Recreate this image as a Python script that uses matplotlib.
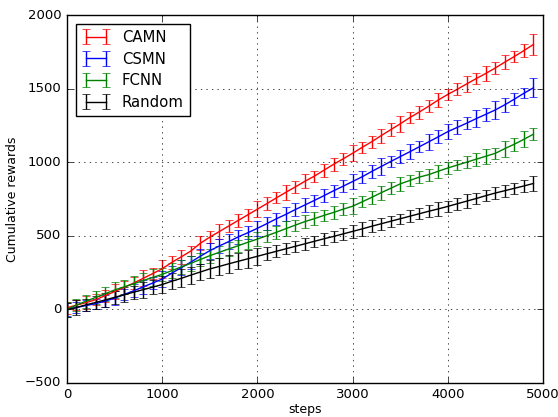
import numpy as np
import matplotlib
matplotlib.use("Agg")
import matplotlib.pyplot as plt

steps = np.arange(0, 5000, 100)

camn = [10, 28, 45, 65, 92, 120, 148, 178, 210, 242,
        275, 318, 356, 395, 448, 490, 528, 566, 604, 642,
        680, 718, 757, 795, 832, 870, 905, 945, 985, 1022,
        1060, 1100, 1138, 1180, 1220, 1260, 1302, 1340, 1380, 1422,
        1460, 1495, 1532, 1568, 1603, 1640, 1680, 1718, 1758, 1800]
camn_err = [40, 35, 45, 38, 42, 50, 44, 40, 55, 38,
            60, 42, 50, 36, 48, 40, 52, 39, 45, 41,
            55, 43, 38, 50, 40, 48, 37, 44, 42, 39,
            55, 36, 41, 47, 43, 52, 38, 44, 40, 46,
            37, 42, 55, 39, 50, 41, 47, 38, 43, 70]

csmn = [0, 12, 25, 38, 55, 75, 100, 125, 152, 178,
        205, 245, 282, 320, 360, 398, 430, 460, 492, 520,
        550, 582, 615, 645, 678, 709, 740, 772, 805, 836,
        868, 900, 936, 970, 1004, 1037, 1070, 1104, 1138, 1172,
        1207, 1236, 1265, 1296, 1325, 1355, 1390, 1428, 1468, 1505]
csmn_err = [45, 38, 40, 35, 42, 48, 40, 44, 50, 42,
            55, 48, 52, 45, 50, 55, 46, 52, 48, 44,
            50, 45, 40, 48, 42, 46, 38, 44, 40, 42,
            48, 40, 42, 55, 40, 45, 50, 38, 55, 44,
            52, 48, 40, 55, 45, 60, 48, 40, 35, 65]

fcnn = [0, 28, 55, 80, 105, 131, 152, 173, 195, 216,
        237, 262, 288, 312, 338, 364, 387, 410, 432, 455,
        477, 500, 523, 548, 572, 596, 616, 638, 658, 680,
        700, 730, 760, 792, 822, 852, 875, 898, 915, 938,
        960, 980, 1000, 1020, 1040, 1060, 1092, 1122, 1155, 1190]
fcnn_err = [50, 40, 45, 42, 48, 52, 45, 50, 48, 55,
            45, 50, 48, 52, 45, 48, 42, 45, 40, 44,
            48, 40, 45, 50, 38, 45, 42, 40, 44, 42,
            55, 38, 45, 48, 40, 50, 36, 42, 40, 45,
            40, 36, 40, 45, 50, 38, 55, 45, 55, 40]

random_ = [-5, 12, 30, 46, 63, 81, 98, 116, 133, 150,
           168, 190, 210, 232, 253, 274, 291, 309, 326, 343,
           360, 377, 394, 411, 428, 445, 462, 479, 495, 512,
           529, 546, 564, 581, 598, 615, 632, 649, 666, 682,
           699, 717, 735, 753, 772, 790, 806, 822, 838, 855]
random_err = [45, 50, 40, 45, 48, 42, 50, 45, 55, 48,
              60, 55, 62, 58, 55, 60, 58, 62, 55, 60,
              58, 45, 40, 38, 36, 42, 38, 40, 36, 38,
              45, 48, 42, 40, 38, 35, 40, 38, 42, 45,
              40, 42, 45, 40, 38, 42, 40, 38, 40, 48]

plt.style.use("classic")
plt.rcParams["font.family"] = ["DejaVu Sans"]

fig = plt.figure(figsize=(5.58, 4.17), dpi=100, facecolor="white")
ax = fig.add_axes([0.12, 0.082, 0.853, 0.882])

ax.errorbar(steps, camn, yerr=camn_err, color="r", label="CAMN", capsize=3)
ax.errorbar(steps, csmn, yerr=csmn_err, color="b", label="CSMN", capsize=3)
ax.errorbar(steps, fcnn, yerr=fcnn_err, color="g", label="FCNN", capsize=3)
ax.errorbar(steps, random_, yerr=random_err, color="k", label="Random", capsize=3)

ax.set_xlim(0, 5000)
ax.set_ylim(-500, 2000)
ax.set_xticks([0, 1000, 2000, 3000, 4000, 5000])
ax.set_yticks([-500, 0, 500, 1000, 1500, 2000])
ax.tick_params(labelsize=9.5)
ax.grid(True)
ax.set_xlabel("steps", fontsize=9, labelpad=1)
ax.set_ylabel("Cumulative rewards", fontsize=9, labelpad=4)
ax.legend(loc="upper left", numpoints=2, fontsize=10.7, handlelength=1.9,
          labelspacing=0.45, borderaxespad=0.6)

fig.savefig("out.png", dpi=100, facecolor="white")
